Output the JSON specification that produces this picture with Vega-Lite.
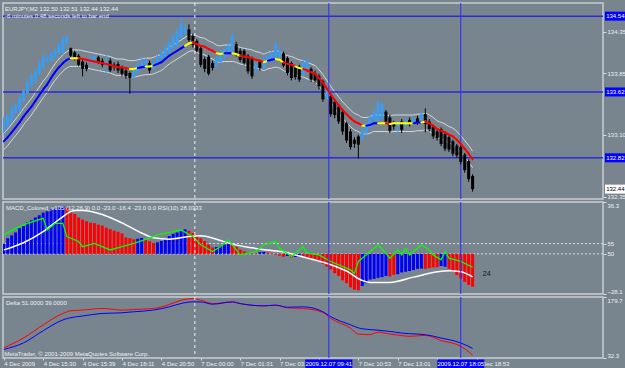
{
"$schema":"https://vega.github.io/schema/vega-lite/v6.json",
"background":"#78858f",
"padding":{"left":1,"top":1,"right":0,"bottom":0},
"bounds":"flush",
"spacing":3,
"config":{
 "view":{"stroke":"#c8cdd2","strokeWidth":1.5},
 "axis":{"labelFont":"Liberation Sans","labelFontSize":6,"labelColor":"#eef0f2","tickColor":"#d8dce0","tickSize":3,"domain":false,"grid":false,"labelPadding":1},
 "scale":{"zero":false,"continuousPadding":0},
 "title":{"font":"Liberation Sans","fontSize":6,"fontWeight":"normal","color":"#eef0f2","anchor":"start","frame":"group","subtitleFont":"Liberation Sans","subtitleFontSize":6,"subtitleColor":"#eef0f2","subtitlePadding":1},
 "text":{"font":"Liberation Sans","fontSize":6}
},
"title":{"text":"MetaTrader, © 2001-2009 MetaQuotes Software Corp.","orient":"bottom","anchor":"start","frame":"bounds","offset":-18,"dx":3},
"datasets":{
"bars":[
{"i":0,"o":133.14,"h":133.32,"l":133.12,"c":133.29,"m":133.02,"u":133.12,"d":132.92,"mc":"u","hv":7,"hc":"b"},
{"i":1,"o":133.20,"h":133.36,"l":133.18,"c":133.33,"m":133.07,"u":133.17,"d":132.97,"mc":"u","hv":11,"hc":"b"},
{"i":2,"o":133.27,"h":133.45,"l":133.25,"c":133.42,"m":133.13,"u":133.23,"d":133.03,"mc":"u","hv":13,"hc":"b"},
{"i":3,"o":133.36,"h":133.50,"l":133.34,"c":133.46,"m":133.19,"u":133.29,"d":133.09,"mc":"u","hv":15,"hc":"b"},
{"i":4,"o":133.40,"h":133.58,"l":133.38,"c":133.55,"m":133.25,"u":133.35,"d":133.15,"mc":"u","hv":18,"hc":"b"},
{"i":5,"o":133.51,"h":133.66,"l":133.49,"c":133.63,"m":133.32,"u":133.42,"d":133.22,"mc":"u","hv":19.5,"hc":"b"},
{"i":6,"o":133.60,"h":133.78,"l":133.58,"c":133.75,"m":133.38,"u":133.48,"d":133.28,"mc":"u","hv":22,"hc":"b"},
{"i":7,"o":133.70,"h":133.84,"l":133.68,"c":133.82,"m":133.44,"u":133.54,"d":133.34,"mc":"u","hv":23.5,"hc":"b"},
{"i":8,"o":133.75,"h":133.90,"l":133.73,"c":133.87,"m":133.51,"u":133.61,"d":133.41,"mc":"u","hv":25.5,"hc":"b"},
{"i":9,"o":133.84,"h":134.00,"l":133.82,"c":133.97,"m":133.58,"u":133.68,"d":133.48,"mc":"u","hv":27,"hc":"b"},
{"i":10,"o":133.91,"h":134.10,"l":133.89,"c":134.06,"m":133.65,"u":133.75,"d":133.55,"mc":"u","hv":28.8,"hc":"b"},
{"i":11,"o":133.99,"h":134.07,"l":133.97,"c":134.03,"m":133.71,"u":133.81,"d":133.61,"mc":"u","hv":29.8,"hc":"b"},
{"i":12,"o":134.00,"h":134.12,"l":133.98,"c":134.09,"m":133.79,"u":133.89,"d":133.69,"mc":"u","hv":31,"hc":"b"},
{"i":13,"o":134.04,"h":134.15,"l":134.01,"c":134.12,"m":133.86,"u":133.96,"d":133.76,"mc":"u","hv":31.5,"hc":"b"},
{"i":14,"o":134.09,"h":134.24,"l":134.07,"c":134.20,"m":133.92,"u":134.02,"d":133.82,"mc":"u","hv":32.5,"hc":"b"},
{"i":15,"o":134.09,"h":134.30,"l":134.07,"c":134.26,"m":133.97,"u":134.07,"d":133.87,"mc":"u","hv":33.5,"hc":"b"},
{"i":16,"o":134.20,"h":134.33,"l":134.18,"c":134.28,"m":134.01,"u":134.11,"d":133.91,"mc":"u","hv":32.2,"hc":"r"},
{"i":17,"o":134.15,"h":134.16,"l":134.04,"c":134.06,"m":134.03,"u":134.13,"d":133.93,"mc":"f","hv":30,"hc":"r"},
{"i":18,"o":134.10,"h":134.12,"l":134.00,"c":134.02,"m":134.03,"u":134.13,"d":133.93,"mc":"f","hv":28,"hc":"r"},
{"i":19,"o":134.06,"h":134.08,"l":133.93,"c":133.95,"m":134.03,"u":134.13,"d":133.93,"mc":"d","hv":25.5,"hc":"r"},
{"i":20,"o":133.99,"h":134.01,"l":133.81,"c":133.90,"m":134.02,"u":134.12,"d":133.92,"mc":"d","hv":24,"hc":"r"},
{"i":21,"o":133.95,"h":133.98,"l":133.87,"c":133.90,"m":134.01,"u":134.11,"d":133.91,"mc":"d","hv":22.8,"hc":"r"},
{"i":22,"o":133.99,"h":134.06,"l":133.97,"c":134.03,"m":134.00,"u":134.10,"d":133.90,"mc":"d","hv":21.8,"hc":"r"},
{"i":23,"o":134.00,"h":134.08,"l":133.98,"c":134.05,"m":133.99,"u":134.09,"d":133.89,"mc":"d","hv":21.5,"hc":"r"},
{"i":24,"o":134.04,"h":134.06,"l":133.96,"c":133.98,"m":133.98,"u":134.08,"d":133.88,"mc":"d","hv":20.5,"hc":"r"},
{"i":25,"o":134.00,"h":134.03,"l":133.92,"c":133.95,"m":133.97,"u":134.07,"d":133.87,"mc":"d","hv":19.8,"hc":"r"},
{"i":26,"o":133.95,"h":134.09,"l":133.83,"c":133.99,"m":133.96,"u":134.06,"d":133.86,"mc":"d","hv":18.3,"hc":"r"},
{"i":27,"o":134.00,"h":134.03,"l":133.86,"c":133.88,"m":133.95,"u":134.05,"d":133.85,"mc":"d","hv":17.3,"hc":"r"},
{"i":28,"o":133.95,"h":133.98,"l":133.88,"c":133.92,"m":133.93,"u":134.03,"d":133.83,"mc":"d","hv":16.3,"hc":"r"},
{"i":29,"o":133.96,"h":133.99,"l":133.85,"c":133.88,"m":133.92,"u":134.02,"d":133.82,"mc":"d","hv":15.5,"hc":"r"},
{"i":30,"o":133.92,"h":133.94,"l":133.81,"c":133.84,"m":133.92,"u":134.02,"d":133.82,"mc":"d","hv":14.3,"hc":"r"},
{"i":31,"o":133.88,"h":133.90,"l":133.78,"c":133.81,"m":133.91,"u":134.01,"d":133.81,"mc":"d","hv":11.5,"hc":"r"},
{"i":32,"o":133.85,"h":133.87,"l":133.60,"c":133.79,"m":133.90,"u":134.00,"d":133.80,"mc":"f","hv":11,"hc":"r"},
{"i":33,"o":133.80,"h":133.93,"l":133.78,"c":133.90,"m":133.90,"u":134.00,"d":133.80,"mc":"f","hv":10.2,"hc":"r"},
{"i":34,"o":133.86,"h":134.00,"l":133.84,"c":133.95,"m":133.91,"u":134.01,"d":133.81,"mc":"u","hv":10.6,"hc":"b"},
{"i":35,"o":133.92,"h":134.06,"l":133.90,"c":133.99,"m":133.92,"u":134.02,"d":133.82,"mc":"u","hv":11.2,"hc":"b"},
{"i":36,"o":133.94,"h":134.03,"l":133.92,"c":134.00,"m":133.93,"u":134.03,"d":133.83,"mc":"f","hv":9.8,"hc":"r"},
{"i":37,"o":133.97,"h":134.00,"l":133.85,"c":133.88,"m":133.93,"u":134.03,"d":133.83,"mc":"f","hv":8.9,"hc":"r"},
{"i":38,"o":133.90,"h":134.02,"l":133.88,"c":133.98,"m":133.94,"u":134.04,"d":133.84,"mc":"u","hv":7.6,"hc":"r"},
{"i":39,"o":133.96,"h":134.08,"l":133.94,"c":134.05,"m":133.96,"u":134.06,"d":133.86,"mc":"u","hv":8,"hc":"b"},
{"i":40,"o":134.02,"h":134.14,"l":134.00,"c":134.10,"m":133.98,"u":134.08,"d":133.88,"mc":"u","hv":9,"hc":"b"},
{"i":41,"o":134.05,"h":134.20,"l":134.03,"c":134.16,"m":134.02,"u":134.12,"d":133.92,"mc":"u","hv":10.5,"hc":"b"},
{"i":42,"o":134.10,"h":134.27,"l":134.08,"c":134.22,"m":134.06,"u":134.16,"d":133.96,"mc":"u","hv":12.5,"hc":"b"},
{"i":43,"o":134.15,"h":134.34,"l":134.13,"c":134.30,"m":134.09,"u":134.19,"d":133.99,"mc":"u","hv":14,"hc":"b"},
{"i":44,"o":134.18,"h":134.40,"l":134.16,"c":134.36,"m":134.12,"u":134.22,"d":134.02,"mc":"u","hv":15,"hc":"b"},
{"i":45,"o":134.28,"h":134.52,"l":134.26,"c":134.45,"m":134.15,"u":134.25,"d":134.05,"mc":"u","hv":16.5,"hc":"b"},
{"i":46,"o":134.33,"h":134.45,"l":134.30,"c":134.40,"m":134.18,"u":134.28,"d":134.08,"mc":"f","hv":17.2,"hc":"b"},
{"i":47,"o":134.38,"h":134.44,"l":134.22,"c":134.25,"m":134.21,"u":134.31,"d":134.11,"mc":"f","hv":16.2,"hc":"r"},
{"i":48,"o":134.30,"h":134.33,"l":134.16,"c":134.19,"m":134.22,"u":134.32,"d":134.12,"mc":"d","hv":14.6,"hc":"r"},
{"i":49,"o":134.24,"h":134.26,"l":134.10,"c":134.12,"m":134.20,"u":134.30,"d":134.10,"mc":"d","hv":12.5,"hc":"r"},
{"i":50,"o":134.15,"h":134.17,"l":133.92,"c":133.95,"m":134.18,"u":134.28,"d":134.08,"mc":"d","hv":11,"hc":"r"},
{"i":51,"o":134.02,"h":134.05,"l":133.86,"c":133.90,"m":134.17,"u":134.27,"d":134.07,"mc":"d","hv":9,"hc":"r"},
{"i":52,"o":134.05,"h":134.07,"l":133.82,"c":133.84,"m":134.14,"u":134.24,"d":134.04,"mc":"d","hv":6.5,"hc":"r"},
{"i":53,"o":133.97,"h":134.00,"l":133.88,"c":133.91,"m":134.12,"u":134.22,"d":134.02,"mc":"d","hv":4.5,"hc":"r"},
{"i":54,"o":133.93,"h":134.06,"l":133.91,"c":134.03,"m":134.09,"u":134.19,"d":133.99,"mc":"f","hv":4.8,"hc":"b"},
{"i":55,"o":133.98,"h":134.13,"l":133.96,"c":134.10,"m":134.08,"u":134.18,"d":133.98,"mc":"f","hv":5.6,"hc":"b"},
{"i":56,"o":134.04,"h":134.17,"l":134.02,"c":134.14,"m":134.09,"u":134.19,"d":133.99,"mc":"u","hv":6.4,"hc":"b"},
{"i":57,"o":134.08,"h":134.22,"l":134.06,"c":134.18,"m":134.09,"u":134.19,"d":133.99,"mc":"u","hv":7.2,"hc":"b"},
{"i":58,"o":134.12,"h":134.34,"l":134.10,"c":134.30,"m":134.09,"u":134.19,"d":133.99,"mc":"f","hv":6.5,"hc":"r"},
{"i":59,"o":134.20,"h":134.23,"l":134.05,"c":134.08,"m":134.08,"u":134.18,"d":133.98,"mc":"f","hv":5,"hc":"r"},
{"i":60,"o":134.12,"h":134.15,"l":133.98,"c":134.01,"m":134.06,"u":134.16,"d":133.96,"mc":"d","hv":3,"hc":"r"},
{"i":61,"o":134.12,"h":134.14,"l":133.95,"c":133.97,"m":134.05,"u":134.15,"d":133.95,"mc":"d","hv":1.8,"hc":"r"},
{"i":62,"o":134.06,"h":134.08,"l":133.84,"c":133.87,"m":134.04,"u":134.14,"d":133.94,"mc":"d","hv":0.8,"hc":"r"},
{"i":63,"o":134.03,"h":134.05,"l":133.78,"c":133.81,"m":134.03,"u":134.13,"d":133.93,"mc":"d","hv":0.4,"hc":"r"},
{"i":64,"o":133.88,"h":133.98,"l":133.86,"c":133.95,"m":134.01,"u":134.11,"d":133.91,"mc":"d","hv":0.3,"hc":"r"},
{"i":65,"o":133.99,"h":134.01,"l":133.88,"c":133.91,"m":134.00,"u":134.10,"d":133.90,"mc":"d","hv":1.2,"hc":"b"},
{"i":66,"o":133.91,"h":134.05,"l":133.89,"c":134.03,"m":133.98,"u":134.08,"d":133.88,"mc":"f","hv":1.4,"hc":"b"},
{"i":67,"o":133.98,"h":134.10,"l":133.96,"c":134.06,"m":134.00,"u":134.10,"d":133.90,"mc":"u","hv":0.8,"hc":"r"},
{"i":68,"o":134.00,"h":134.12,"l":133.98,"c":134.10,"m":134.01,"u":134.11,"d":133.91,"mc":"u","hv":0.4,"hc":"r"},
{"i":69,"o":134.02,"h":134.24,"l":134.00,"c":134.20,"m":134.02,"u":134.12,"d":133.92,"mc":"f","hv":-0.5,"hc":"r"},
{"i":70,"o":134.05,"h":134.16,"l":134.03,"c":134.12,"m":134.01,"u":134.11,"d":133.91,"mc":"f","hv":-1.2,"hc":"r"},
{"i":71,"o":134.09,"h":134.11,"l":133.92,"c":133.94,"m":133.98,"u":134.08,"d":133.88,"mc":"d","hv":-2,"hc":"r"},
{"i":72,"o":134.03,"h":134.05,"l":133.82,"c":133.85,"m":133.96,"u":134.06,"d":133.86,"mc":"d","hv":-1.5,"hc":"b"},
{"i":73,"o":133.97,"h":133.99,"l":133.76,"c":133.79,"m":133.95,"u":134.05,"d":133.85,"mc":"d","hv":-2.5,"hc":"r"},
{"i":74,"o":133.92,"h":133.95,"l":133.77,"c":133.80,"m":133.93,"u":134.03,"d":133.83,"mc":"f","hv":-2.2,"hc":"b"},
{"i":75,"o":133.93,"h":133.95,"l":133.74,"c":133.77,"m":133.91,"u":134.01,"d":133.81,"mc":"f","hv":-1.8,"hc":"b"},
{"i":76,"o":133.83,"h":134.02,"l":133.81,"c":133.98,"m":133.90,"u":134.00,"d":133.80,"mc":"d","hv":-2.2,"hc":"r"},
{"i":77,"o":133.90,"h":134.03,"l":133.88,"c":134.00,"m":133.88,"u":133.98,"d":133.78,"mc":"d","hv":-3,"hc":"r"},
{"i":78,"o":133.90,"h":133.92,"l":133.74,"c":133.77,"m":133.86,"u":133.96,"d":133.76,"mc":"d","hv":-3.8,"hc":"r"},
{"i":79,"o":133.85,"h":133.88,"l":133.73,"c":133.76,"m":133.84,"u":133.94,"d":133.74,"mc":"d","hv":-4.3,"hc":"r"},
{"i":80,"o":133.81,"h":133.84,"l":133.65,"c":133.69,"m":133.79,"u":133.89,"d":133.69,"mc":"d","hv":-5.4,"hc":"r"},
{"i":81,"o":133.75,"h":133.77,"l":133.50,"c":133.53,"m":133.73,"u":133.83,"d":133.63,"mc":"d","hv":-7,"hc":"r"},
{"i":82,"o":133.55,"h":133.68,"l":133.53,"c":133.65,"m":133.66,"u":133.76,"d":133.56,"mc":"d","hv":-8.9,"hc":"r"},
{"i":83,"o":133.57,"h":133.60,"l":133.32,"c":133.35,"m":133.59,"u":133.69,"d":133.49,"mc":"d","hv":-11,"hc":"r"},
{"i":84,"o":133.50,"h":133.53,"l":133.30,"c":133.34,"m":133.52,"u":133.62,"d":133.42,"mc":"d","hv":-13.5,"hc":"r"},
{"i":85,"o":133.44,"h":133.47,"l":133.23,"c":133.26,"m":133.46,"u":133.56,"d":133.36,"mc":"d","hv":-15.5,"hc":"r"},
{"i":86,"o":133.38,"h":133.40,"l":133.10,"c":133.14,"m":133.40,"u":133.50,"d":133.30,"mc":"d","hv":-18.5,"hc":"r"},
{"i":87,"o":133.24,"h":133.26,"l":133.00,"c":133.03,"m":133.35,"u":133.45,"d":133.25,"mc":"d","hv":-20.5,"hc":"r"},
{"i":88,"o":133.14,"h":133.17,"l":132.92,"c":132.95,"m":133.30,"u":133.40,"d":133.20,"mc":"d","hv":-23.5,"hc":"r"},
{"i":89,"o":133.04,"h":133.07,"l":132.94,"c":132.99,"m":133.26,"u":133.36,"d":133.16,"mc":"d","hv":-25,"hc":"r"},
{"i":90,"o":133.08,"h":133.10,"l":132.81,"c":132.98,"m":133.24,"u":133.34,"d":133.14,"mc":"d","hv":-25.5,"hc":"r"},
{"i":91,"o":133.06,"h":133.19,"l":133.03,"c":133.17,"m":133.21,"u":133.31,"d":133.11,"mc":"f","hv":-22.5,"hc":"b"},
{"i":92,"o":133.12,"h":133.27,"l":133.10,"c":133.24,"m":133.21,"u":133.31,"d":133.11,"mc":"u","hv":-20.5,"hc":"b"},
{"i":93,"o":133.20,"h":133.35,"l":133.18,"c":133.32,"m":133.22,"u":133.32,"d":133.12,"mc":"u","hv":-18,"hc":"b"},
{"i":94,"o":133.28,"h":133.42,"l":133.26,"c":133.38,"m":133.24,"u":133.34,"d":133.14,"mc":"u","hv":-17.5,"hc":"b"},
{"i":95,"o":133.26,"h":133.53,"l":133.24,"c":133.49,"m":133.24,"u":133.34,"d":133.14,"mc":"f","hv":-16.8,"hc":"b"},
{"i":96,"o":133.30,"h":133.50,"l":133.28,"c":133.47,"m":133.24,"u":133.34,"d":133.14,"mc":"f","hv":-16.3,"hc":"b"},
{"i":97,"o":133.38,"h":133.40,"l":133.23,"c":133.26,"m":133.24,"u":133.34,"d":133.14,"mc":"d","hv":-15.5,"hc":"b"},
{"i":98,"o":133.31,"h":133.34,"l":133.12,"c":133.15,"m":133.23,"u":133.33,"d":133.13,"mc":"f","hv":-15.8,"hc":"r"},
{"i":99,"o":133.24,"h":133.27,"l":133.16,"c":133.20,"m":133.24,"u":133.34,"d":133.14,"mc":"f","hv":-14.6,"hc":"r"},
{"i":100,"o":133.20,"h":133.27,"l":133.10,"c":133.24,"m":133.24,"u":133.34,"d":133.14,"mc":"f","hv":-14.3,"hc":"b"},
{"i":101,"o":133.26,"h":133.29,"l":133.12,"c":133.16,"m":133.24,"u":133.34,"d":133.14,"mc":"f","hv":-13,"hc":"b"},
{"i":102,"o":133.22,"h":133.30,"l":133.19,"c":133.27,"m":133.24,"u":133.34,"d":133.14,"mc":"f","hv":-12.5,"hc":"b"},
{"i":103,"o":133.28,"h":133.31,"l":133.20,"c":133.23,"m":133.24,"u":133.34,"d":133.14,"mc":"f","hv":-12,"hc":"b"},
{"i":104,"o":133.24,"h":133.33,"l":133.22,"c":133.30,"m":133.24,"u":133.34,"d":133.14,"mc":"u","hv":-11.3,"hc":"b"},
{"i":105,"o":133.30,"h":133.33,"l":133.22,"c":133.25,"m":133.25,"u":133.35,"d":133.15,"mc":"u","hv":-10.5,"hc":"b"},
{"i":106,"o":133.28,"h":133.38,"l":133.26,"c":133.35,"m":133.25,"u":133.35,"d":133.15,"mc":"f","hv":-10.3,"hc":"b"},
{"i":107,"o":133.35,"h":133.42,"l":133.13,"c":133.23,"m":133.26,"u":133.36,"d":133.16,"mc":"d","hv":-10.5,"hc":"r"},
{"i":108,"o":133.26,"h":133.29,"l":133.14,"c":133.17,"m":133.24,"u":133.34,"d":133.14,"mc":"d","hv":-10,"hc":"r"},
{"i":109,"o":133.20,"h":133.22,"l":133.05,"c":133.08,"m":133.21,"u":133.31,"d":133.11,"mc":"d","hv":-9.5,"hc":"r"},
{"i":110,"o":133.14,"h":133.16,"l":133.03,"c":133.06,"m":133.17,"u":133.27,"d":133.07,"mc":"d","hv":-9.4,"hc":"r"},
{"i":111,"o":133.17,"h":133.19,"l":132.96,"c":132.99,"m":133.15,"u":133.25,"d":133.05,"mc":"d","hv":-8.5,"hc":"b"},
{"i":112,"o":133.11,"h":133.13,"l":132.90,"c":132.93,"m":133.13,"u":133.23,"d":133.03,"mc":"d","hv":-9,"hc":"b"},
{"i":113,"o":133.07,"h":133.10,"l":132.89,"c":132.92,"m":133.10,"u":133.20,"d":133.00,"mc":"d","hv":-10.5,"hc":"r"},
{"i":114,"o":133.02,"h":133.04,"l":132.84,"c":132.87,"m":133.08,"u":133.18,"d":132.98,"mc":"d","hv":-12.6,"hc":"r"},
{"i":115,"o":132.97,"h":132.99,"l":132.82,"c":132.85,"m":133.04,"u":133.14,"d":132.94,"mc":"d","hv":-14.9,"hc":"r"},
{"i":116,"o":132.95,"h":132.97,"l":132.74,"c":132.77,"m":132.99,"u":133.09,"d":132.89,"mc":"d","hv":-17.3,"hc":"r"},
{"i":117,"o":132.86,"h":132.88,"l":132.64,"c":132.67,"m":132.93,"u":133.03,"d":132.83,"mc":"d","hv":-19.6,"hc":"r"},
{"i":118,"o":132.78,"h":132.80,"l":132.53,"c":132.56,"m":132.87,"u":132.97,"d":132.77,"mc":"d","hv":-21.8,"hc":"r"},
{"i":119,"o":132.60,"h":132.62,"l":132.41,"c":132.44,"m":132.80,"u":132.90,"d":132.70,"mc":"d","hv":-23,"hc":"r"}
],
"sig":[
{"i":0,"v":2.8},{"i":5,"v":7.8},{"i":10,"v":15.5},{"i":14,"v":24},{"i":18,"v":30.3},{"i":20,"v":30.4},{"i":25,"v":27.6},{"i":30,"v":21.7},{"i":35,"v":14.6},{"i":38,"v":11.2},{"i":42,"v":10.3},{"i":47,"v":12.2},{"i":50,"v":12.7},{"i":54,"v":10.2},{"i":58,"v":6.8},{"i":63,"v":4.2},{"i":68,"v":2.3},{"i":71,"v":1.4},{"i":74,"v":-0.8},{"i":79,"v":-4.3},{"i":83,"v":-7.6},{"i":87,"v":-12},{"i":91,"v":-18.6},{"i":93,"v":-20},{"i":98,"v":-20},{"i":104,"v":-16.3},{"i":110,"v":-12.6},{"i":113,"v":-11.8},{"i":116,"v":-12.5},{"i":119,"v":-16.1}
],
"rsi":[
{"i":0,"v":59.2},{"i":3,"v":62.4},{"i":6,"v":64.8},{"i":10,"v":67.3},{"i":11,"v":61.6},{"i":13,"v":64.8},{"i":15,"v":64.8},{"i":16,"v":58.4},{"i":19,"v":56},{"i":20,"v":53.5},{"i":23,"v":55.1},{"i":27,"v":51.9},{"i":30,"v":53.5},{"i":33,"v":55.1},{"i":37,"v":57.6},{"i":39,"v":59.2},{"i":43,"v":60.8},{"i":45,"v":61.6},{"i":48,"v":58.4},{"i":50,"v":54.4},{"i":53,"v":51.1},{"i":55,"v":53.5},{"i":57,"v":56.8},{"i":59,"v":51.9},{"i":60,"v":49.5},{"i":64,"v":51.1},{"i":66,"v":54.4},{"i":69,"v":56},{"i":70,"v":52.7},{"i":73,"v":48.7},{"i":76,"v":53.5},{"i":77,"v":50.3},{"i":80,"v":49.5},{"i":83,"v":46.3},{"i":88,"v":42.2},{"i":89,"v":40.6},{"i":90,"v":46.3},{"i":93,"v":51.1},{"i":95,"v":54.4},{"i":97,"v":50.3},{"i":98,"v":47.9},{"i":100,"v":51.9},{"i":101,"v":49.5},{"i":102,"v":52.7},{"i":103,"v":49.5},{"i":106,"v":54.4},{"i":108,"v":51.9},{"i":109,"v":49.5},{"i":111,"v":47.1},{"i":112,"v":51.1},{"i":113,"v":47.9},{"i":116,"v":46.3},{"i":119,"v":43.5}
],
"delta":[
{"i":0,"r":56.8,"b":53},{"i":5,"r":80.6,"b":68.7},{"i":10,"r":112.4,"b":98.2},{"i":15,"r":140,"b":124.3},{"i":17,"r":146.4,"b":129.8},{"i":20,"r":148.1,"b":133.8},{"i":25,"r":151.9,"b":140},{"i":30,"r":148.1,"b":141.5},{"i":33,"r":149.5,"b":144},{"i":38,"r":151.9,"b":148.1},{"i":42,"r":161.4,"b":155.9},{"i":45,"r":171.9,"b":164},{"i":48,"r":175.7,"b":168},{"i":50,"r":171.9,"b":167.8},{"i":53,"r":163.8,"b":162.3},{"i":58,"r":167.8,"b":167.8},{"i":60,"r":163.8,"b":163.8},{"i":66,"r":158.3,"b":158.3},{"i":69,"r":160,"b":160},{"i":72,"r":153.5,"b":155},{"i":76,"r":151.9,"b":155.9},{"i":81,"r":142.4,"b":144},{"i":83,"r":128.1,"b":132.2},{"i":88,"r":104.3,"b":112.4},{"i":90,"r":90.1,"b":105},{"i":93,"r":88.7,"b":101},{"i":95,"r":94.8,"b":99.5},{"i":98,"r":90.1,"b":96.5},{"i":101,"r":86.5,"b":92.5},{"i":103,"r":84.6,"b":91},{"i":107,"r":87,"b":88.7},{"i":111,"r":74.4,"b":80.6},{"i":116,"r":60.8,"b":68.7},{"i":119,"r":39.5,"b":55.4}
],
"plab":[{"p":134.54,"k":"line"},{"p":133.62,"k":"line"},{"p":132.82,"k":"line"},{"p":132.44,"k":"last"}],
"vl":[{"i":82.5,"t":"2009.12.07 09:41"},{"i":116,"t":"2009.12.07 18:05"}],
"sep":[{"i":48.5}],
"lv":[{"v":55},{"v":50}],
"ann":[{"i":121.6,"v":-14,"t":"24"}]
},
"vconcat":[
{
 "width":600,"height":196,
 "title":{"text":"EURJPY,M2  132.50 132.51 132.44 132.44","subtitle":"-6 minutes 0:48 seconds left to bar end","offset":-16,"dx":2},
 "layer":[
  {"data":{"name":"bars"},"mark":{"type":"line","color":"#d6dade","strokeWidth":1,"interpolate":"monotone","clip":true},
   "encoding":{"x":{"field":"i","type":"quantitative","scale":{"domain":[-0.2,152.1],"nice":false,"padding":0},"axis":null},
    "y":{"field":"u","type":"quantitative","title":null,"scale":{"domain":[132.32,134.70],"nice":false,"padding":0},"axis":{"orient":"right","values":[132.35,132.6,133.1,133.35,133.85,134.1,134.35,134.6],"format":".2f","labelFlush":false,"title":null}}}},
  {"data":{"name":"bars"},"mark":{"type":"line","color":"#d6dade","strokeWidth":1,"interpolate":"monotone","clip":true},
   "encoding":{"x":{"field":"i","type":"quantitative","scale":{"domain":[-0.2,152.1],"nice":false},"axis":null},"y":{"field":"d","type":"quantitative","title":null,"scale":{"domain":[132.32,134.70],"nice":false}}}},
  {"data":{"name":"plab"},"transform":[{"filter":"datum.k == 'line'"}],"mark":{"type":"rule","color":"#2a2ad6","strokeWidth":1.5},
   "encoding":{"y":{"field":"p","type":"quantitative","title":null,"scale":{"domain":[132.32,134.70],"nice":false}}}},
  {"data":{"name":"vl"},"mark":{"type":"rule","color":"#2b2bff","strokeWidth":1},"encoding":{"x":{"field":"i","type":"quantitative","scale":{"domain":[-0.2,152.1],"nice":false},"axis":null}}},
  {"data":{"name":"sep"},"mark":{"type":"rule","color":"#f2f2f2","strokeWidth":1,"strokeDash":[3,3]},"encoding":{"x":{"field":"i","type":"quantitative","scale":{"domain":[-0.2,152.1],"nice":false},"axis":null}}},
  {"data":{"name":"bars"},"mark":{"type":"rule","strokeWidth":1,"clip":true},
   "encoding":{"x":{"field":"i","type":"quantitative","scale":{"domain":[-0.2,152.1],"nice":false},"axis":null},"y":{"field":"l","type":"quantitative","title":null,"scale":{"domain":[132.32,134.70],"nice":false}},"y2":{"field":"h"},
    "color":{"condition":{"test":"datum.c >= datum.o","value":"#3a9cf2"},"value":"#000000"}}},
  {"data":{"name":"bars"},"mark":{"type":"bar","size":3,"clip":true},
   "encoding":{"x":{"field":"i","type":"quantitative","scale":{"domain":[-0.2,152.1],"nice":false,"padding":0},"axis":null},"y":{"field":"o","type":"quantitative","title":null,"scale":{"domain":[132.32,134.70],"nice":false}},"y2":{"field":"c"},
    "color":{"condition":{"test":"datum.c >= datum.o","value":"#3a9cf2"},"value":"#000000"}}},
  {"data":{"name":"bars"},
   "transform":[{"window":[{"op":"lead","field":"m","as":"m2"},{"op":"lead","field":"i","as":"i2"}],"sort":[{"field":"i","order":"ascending"}]},{"filter":"isValid(datum.i2)"}],
   "mark":{"type":"rule","strokeWidth":2,"strokeCap":"round","clip":true},
   "encoding":{"x":{"field":"i","type":"quantitative","scale":{"domain":[-0.2,152.1],"nice":false},"axis":null},"x2":{"field":"i2"},"y":{"field":"m","type":"quantitative","title":null,"scale":{"domain":[132.32,134.70],"nice":false}},"y2":{"field":"m2"},
    "color":{"field":"mc","type":"nominal","scale":{"domain":["u","d","f"],"range":["#0000ff","#ff0000","#ffff00"]},"legend":null}}},
  {"data":{"name":"plab"},"mark":{"type":"bar","orient":"horizontal","size":9},
   "encoding":{"x":{"datum":152.6,"type":"quantitative","scale":{"domain":[-0.2,152.1],"nice":false},"axis":null},"x2":{"datum":158.6},"y":{"field":"p","type":"quantitative","title":null,"scale":{"domain":[132.32,134.70],"nice":false,"padding":0}},
    "color":{"condition":{"test":"datum.k == 'last'","value":"#ffffff"},"value":"#0000ff"}}},
  {"data":{"name":"plab"},"mark":{"type":"text","align":"left","baseline":"middle","fontSize":6},
   "encoding":{"x":{"datum":152.9,"type":"quantitative","scale":{"domain":[-0.2,152.1],"nice":false},"axis":null},"y":{"field":"p","type":"quantitative","title":null,"scale":{"domain":[132.32,134.70],"nice":false}},"text":{"field":"p","type":"quantitative","format":".2f"},
    "color":{"condition":{"test":"datum.k == 'last'","value":"#000000"},"value":"#ffffff"}}}
 ]
},
{
 "width":600,"height":92,
 "title":{"text":"MACD_Colored_v105 (12,26,9) 0.0 -23.0 -16.4 -23.0 0.0  RSI(10) 28.0333","offset":-9,"dx":3},
 "layer":[
  {"data":{"name":"lv"},"mark":{"type":"rule","color":"#d8dce0","strokeWidth":1,"strokeDash":[2,2]},
   "encoding":{"y":{"field":"v","type":"quantitative","scale":{"domain":[30.5,75.2],"nice":false},"axis":{"orient":"right","values":[55,50],"labelFlush":false,"title":null}}}},
  {"data":{"name":"bars"},"mark":{"type":"bar","size":3,"clip":true},
   "encoding":{"x":{"field":"i","type":"quantitative","scale":{"domain":[-0.2,152.1],"nice":false,"padding":0},"axis":null},
    "y":{"field":"hv","type":"quantitative","scale":{"domain":[-28.1,36.3],"nice":false},"axis":{"orient":"right","values":[36.3,-28.1],"format":".1f","labelFlush":true,"title":null}},
    "y2":{"datum":0},
    "color":{"field":"hc","type":"nominal","scale":{"domain":["b","r"],"range":["#0000ff","#ff0000"]},"legend":null}}},
  {"data":{"name":"sig"},"mark":{"type":"line","color":"#ffffff","strokeWidth":1.5,"interpolate":"monotone","clip":true},
   "encoding":{"x":{"field":"i","type":"quantitative","scale":{"domain":[-0.2,152.1],"nice":false},"axis":null},"y":{"field":"v","type":"quantitative","scale":{"domain":[-28.1,36.3],"nice":false},"axis":null}}},
  {"data":{"name":"rsi"},"mark":{"type":"line","color":"#00ff00","strokeWidth":1.3,"clip":true},
   "encoding":{"x":{"field":"i","type":"quantitative","scale":{"domain":[-0.2,152.1],"nice":false},"axis":null},"y":{"field":"v","type":"quantitative","scale":{"domain":[30.5,75.2],"nice":false},"axis":null}}},
  {"data":{"name":"vl"},"mark":{"type":"rule","color":"#2b2bff","strokeWidth":1},"encoding":{"x":{"field":"i","type":"quantitative","scale":{"domain":[-0.2,152.1],"nice":false},"axis":null}}},
  {"data":{"name":"sep"},"mark":{"type":"rule","color":"#f2f2f2","strokeWidth":1,"strokeDash":[3,3]},"encoding":{"x":{"field":"i","type":"quantitative","scale":{"domain":[-0.2,152.1],"nice":false},"axis":null}}},
  {"data":{"name":"ann"},"mark":{"type":"text","color":"#111111","fontSize":7,"align":"left","baseline":"middle"},
   "encoding":{"x":{"field":"i","type":"quantitative","scale":{"domain":[-0.2,152.1],"nice":false},"axis":null},"y":{"field":"v","type":"quantitative","scale":{"domain":[-28.1,36.3],"nice":false},"axis":null},"text":{"field":"t"}}}
 ],
 "resolve":{"scale":{"y":"independent"},"axis":{"y":"independent"}}
},
{
 "width":600,"height":61,
 "title":{"text":"Delta 51.0000 39.0000","offset":-9,"dx":3},
 "layer":[
  {"data":{"name":"delta"},"mark":{"type":"line","color":"#ff0000","strokeWidth":1,"interpolate":"monotone","clip":true},
   "encoding":{"x":{"field":"i","type":"quantitative","title":null,"scale":{"domain":[-0.2,152.1],"nice":false,"padding":0},
     "axis":{"orient":"bottom","values":[0,10,20,30,40,50,60,70,80,90,100,110,120],"labelExpr":"['4 Dec 2009','4 Dec 15:30','4 Dec 15:39','4 Dec 18:11','4 Dec 20:50','7 Dec 00:00','7 Dec 01:31','7 Dec 03:39','','7 Dec 10:53','7 Dec 13:01','','7 Dec 18:53'][round(datum.value/10)]","labelAlign":"left","labelBaseline":"top","labelFlush":false,"labelOverlap":false,"tickSize":2,"labelPadding":0,"title":null}},
    "y":{"field":"r","type":"quantitative","title":null,"scale":{"domain":[32.3,179.7],"nice":false,"padding":0},"axis":{"orient":"right","values":[179.7,32.3],"format":".1f","labelFlush":true,"title":null}}}},
  {"data":{"name":"delta"},"mark":{"type":"line","color":"#0000ff","strokeWidth":1,"interpolate":"monotone","clip":true},
   "encoding":{"x":{"field":"i","type":"quantitative","title":null,"scale":{"domain":[-0.2,152.1],"nice":false}},"y":{"field":"b","type":"quantitative","title":null,"scale":{"domain":[32.3,179.7],"nice":false}}}},
  {"data":{"name":"vl"},"mark":{"type":"rule","color":"#2b2bff","strokeWidth":1},"encoding":{"x":{"field":"i","type":"quantitative","title":null,"scale":{"domain":[-0.2,152.1],"nice":false}}}},
  {"data":{"name":"sep"},"mark":{"type":"rule","color":"#f2f2f2","strokeWidth":1,"strokeDash":[3,3]},"encoding":{"x":{"field":"i","type":"quantitative","title":null,"scale":{"domain":[-0.2,152.1],"nice":false}}}},
  {"data":{"name":"vl"},"mark":{"type":"bar","size":47,"color":"#0000ff"},
   "encoding":{"x":{"field":"i","type":"quantitative","title":null,"scale":{"domain":[-0.2,152.1],"nice":false,"padding":0}},"y":{"datum":28.7,"type":"quantitative","title":null,"scale":{"domain":[32.3,179.7],"nice":false}},"y2":{"datum":8.1}}},
  {"data":{"name":"vl"},"mark":{"type":"text","color":"#ffffff","fontSize":6,"baseline":"middle","align":"center"},
   "encoding":{"x":{"field":"i","type":"quantitative","title":null,"scale":{"domain":[-0.2,152.1],"nice":false}},"y":{"datum":18.5,"type":"quantitative","title":null,"scale":{"domain":[32.3,179.7],"nice":false}},"text":{"field":"t"}}}
 ]
}
]
}
